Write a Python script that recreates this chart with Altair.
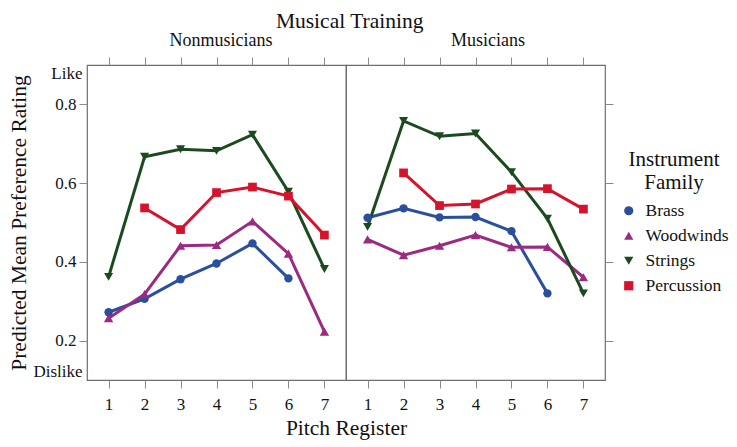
import altair as alt
import pandas as pd

pitch = [1, 2, 3, 4, 5, 6, 7]
families = ["Brass", "Woodwinds", "Strings", "Percussion"]
colors = ["#2a4f9c", "#9b2a82", "#1b4a1f", "#d6132d"]
shapes = ["circle", "triangle-up", "triangle-down", "square"]
marker_sizes = [70, 120, 120, 88]
groups = ["Nonmusicians", "Musicians"]

non_brass = [0.272, 0.306, 0.356, 0.396, 0.447, 0.358, None]
non_wood = [0.257, 0.318, 0.441, 0.443, 0.503, 0.421, 0.223]
non_str = [0.362, 0.667, 0.686, 0.682, 0.723, 0.578, 0.382]
non_perc = [None, 0.537, 0.482, 0.576, 0.590, 0.567, 0.468]

mus_brass = [0.512, 0.536, 0.513, 0.514, 0.478, 0.320, None]
mus_wood = [0.457, 0.417, 0.441, 0.468, 0.437, 0.438, 0.361]
mus_str = [0.489, 0.758, 0.719, 0.726, 0.628, 0.510, 0.320]
mus_perc = [None, 0.626, 0.543, 0.547, 0.585, 0.586, 0.534]

series = {
    "Nonmusicians": [non_brass, non_wood, non_str, non_perc],
    "Musicians": [mus_brass, mus_wood, mus_str, mus_perc],
}

rows = []
for g in groups:
    for fam, vals in zip(families, series[g]):
        for p, v in zip(pitch, vals):
            if v is not None:
                rows.append({"group": g, "family": fam, "style": fam, "pitch": p, "value": v})
df = pd.DataFrame(rows)

# style scales keyed on a copy of the family field (alphabetical domain order)
style_order = sorted(families)
style_colors = [colors[families.index(f)] for f in style_order]
style_sizes = [marker_sizes[families.index(f)] for f in style_order]

PW, PH = 259, 315
FONT = "Liberation Serif"
TICK = "#8a8a8a"
INK = "#111111"

color_legend = alt.Legend(
    title=["Instrument", "Family"], titleFont=FONT, titleFontSize=21,
    titleFontWeight="normal", titleAnchor="middle", titleColor=INK, titleLineHeight=23,
    labelFont=FONT, labelFontSize=17.5, labelColor=INK,
    symbolSize=85, symbolStrokeWidth=0, rowPadding=6, labelOffset=8,
    titlePadding=9, orient="none", legendX=533, legendY=84,
)

header_x = {"Nonmusicians": PW / 2 + 4, "Musicians": PW / 2 + 12}


def panel(g, left):
    sub = df[df["group"] == g]
    xs = alt.Scale(domain=[0.4, 7.6], nice=False, zero=False)
    ys = alt.Scale(domain=[0.1, 0.9], nice=False, zero=False)
    base = alt.Chart(sub)
    x_bottom = alt.X(
        "pitch:Q", scale=xs,
        axis=alt.Axis(values=pitch, format="d", orient="bottom",
                      title="Pitch Register" if left else None,
                      titleX=PW, titleFontSize=21.5, titleFontWeight="normal",
                      titlePadding=5, labelFontSize=17, labelPadding=8,
                      tickSize=8, labelColor=INK, titleColor=INK),
    )
    x_top = alt.X(
        "pitch:Q", scale=xs,
        axis=alt.Axis(values=pitch, labels=False, orient="top", title=g,
                      titleX=header_x[g],
                      titleFontSize=18, titleFontWeight="normal",
                      titlePadding=7, tickSize=8, titleColor=INK),
    )
    if left:
        y_line = alt.Y(
            "value:Q", scale=ys,
            axis=alt.Axis(
                values=[0.1, 0.2, 0.4, 0.6, 0.8, 0.9], orient="left",
                labelExpr="datum.value > 0.85 ? 'Like' : (datum.value < 0.15 ? 'Dislike' : format(datum.value, '.1f'))",
                labelFlush=True, labelFontSize=17, labelColor=INK,
                labelPadding={"condition": {"test": "datum.value < 0.15 || datum.value > 0.85", "value": -3}, "value": 3},
                tickOpacity={"condition": {"test": "datum.value < 0.15 || datum.value > 0.85", "value": 0}, "value": 1},
                tickSize=8, title="Predicted Mean Preference Rating",
                titleFontSize=21.5, titleFontWeight="normal", titlePadding=2,
                titleColor=INK),
        )
        y_pts = alt.Y("value:Q", scale=ys, axis=None)
    else:
        y_line = alt.Y("value:Q", scale=ys, axis=None)
        y_pts = alt.Y(
            "value:Q", scale=ys,
            axis=alt.Axis(values=[0.2, 0.4, 0.6, 0.8], orient="right",
                          labels=False, title=None, tickSize=8),
        )
    line = base.mark_line(strokeWidth=3).encode(
        x=x_bottom, y=y_line,
        stroke=alt.Stroke("style:N", scale=alt.Scale(range=style_colors), legend=None),
    )
    pts = base.mark_point(filled=True, opacity=1).encode(
        x=x_top, y=y_pts,
        color=alt.Color("family:N", scale=alt.Scale(domain=families, range=colors), legend=color_legend),
        shape=alt.Shape("family:N", scale=alt.Scale(domain=families, range=shapes), legend=color_legend),
        size=alt.Size("style:N", scale=alt.Scale(range=style_sizes), legend=None),
    )
    return alt.layer(line, pts).resolve_axis(x="independent", y="independent").properties(
        width=PW, height=PH)


chart = alt.hconcat(
    panel("Nonmusicians", True), panel("Musicians", False), spacing=0, bounds="flush"
).properties(
    title=alt.TitleParams("Musical Training", fontSize=21.5, fontWeight="normal",
                          anchor="middle", color=INK, dx=-19, offset=-2),
    padding={"left": 0, "top": 3, "right": 0, "bottom": 0},
).configure(font=FONT).configure_view(stroke="#6e6e6e", strokeWidth=1.2).configure_axis(
    domain=False, tickColor=TICK, tickWidth=1, grid=False,
)

chart.save("out.html", embed_options={"renderer": "svg", "actions": False})
